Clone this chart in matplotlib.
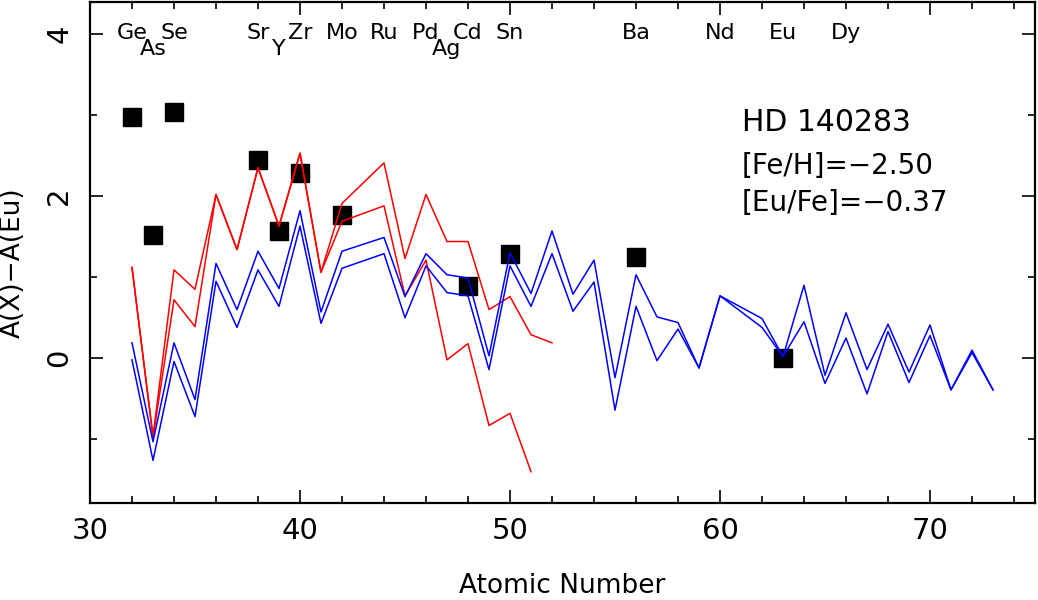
import matplotlib
matplotlib.use("Agg")
import matplotlib.pyplot as plt
from matplotlib.ticker import MultipleLocator

# observed abundances (squares)
obs_z = [32, 33, 34, 38, 39, 40, 42, 48, 50, 56, 63]
obs_v = [2.98, 1.52, 3.04, 2.45, 1.57, 2.29, 1.77, 0.89, 1.29, 1.25, 0.00]

# model curves, red (two) and blue (two)
z_red_hi = [32, 33, 34, 35, 36, 37, 38, 39, 40, 41, 42, 44, 45, 46, 47, 48, 49, 50, 51, 52]
red_hi = [1.12, -0.96, 1.09, 0.85, 2.02, 1.34, 2.35, 1.63, 2.53, 1.06, 1.91,
          2.41, 1.23, 2.02, 1.44, 1.44, 0.60, 0.76, 0.29, 0.19]
z_red_lo = [32, 33, 34, 35, 36, 37, 38, 39, 40, 41, 42, 44, 45, 46, 47, 48, 49, 50, 51]
red_lo = [1.12, -0.98, 0.72, 0.39, 2.02, 1.34, 2.35, 1.63, 2.53, 1.06, 1.69,
          1.88, 0.77, 1.21, -0.02, 0.18, -0.83, -0.68, -1.40]

z_blue = [32, 33, 34, 35, 36, 37, 38, 39, 40, 41, 42,
          44, 45, 46, 47, 48, 49, 50, 51, 52, 53, 54, 55, 56, 57, 58, 59, 60,
          62, 63, 64, 65, 66, 67, 68, 69, 70, 71, 72, 73]
blue_hi = [0.19, -1.03, 0.19, -0.51, 1.17, 0.60, 1.32, 0.86, 1.82, 0.57, 1.32,
           1.49, 0.76, 1.29, 1.03, 0.99, 0.03, 1.30, 0.80, 1.57, 0.79, 1.21, -0.24, 1.03, 0.51, 0.44, -0.12, 0.77,
           0.49, 0.02, 0.90, -0.21, 0.56, -0.14, 0.42, -0.17, 0.41, -0.39, 0.10, -0.39]
blue_lo = [-0.02, -1.26, -0.04, -0.72, 0.95, 0.38, 1.09, 0.64, 1.63, 0.43, 1.11,
           1.29, 0.50, 1.14, 0.81, 0.77, -0.14, 1.14, 0.64, 1.29, 0.58, 0.94, -0.64, 0.64, -0.03, 0.36, -0.12, 0.77,
           0.38, 0.02, 0.45, -0.31, 0.25, -0.44, 0.33, -0.30, 0.28, -0.39, 0.07, -0.39]

# element labels along the top (row 1 = lower line)
elem_names = ['Ge', 'As', 'Se', 'Sr', 'Y', 'Zr', 'Mo', 'Ru', 'Pd', 'Ag', 'Cd', 'Sn', 'Ba', 'Nd', 'Eu', 'Dy']
elem_z = [32, 33, 34, 38, 39, 40, 42, 44, 46, 47, 48, 50, 56, 60, 63, 66]
elem_row = [0, 1, 0, 0, 1, 0, 0, 0, 0, 1, 0, 0, 0, 0, 0, 0]

star_lines = ["HD 140283", "[Fe/H]=\u22122.50", "[Eu/Fe]=\u22120.37"]

plt.rcParams['font.family'] = ['DejaVu Sans']

fig = plt.figure(figsize=(10.38, 6.0), dpi=100)
ax = fig.add_axes([90 / 1038, 97 / 600, 945 / 1038, 501 / 600])

ax.plot(obs_z, obs_v, 's', color='black', markersize=12.5, zorder=2)
ax.plot(z_red_hi, red_hi, color='red', lw=1.1, zorder=3)
ax.plot(z_red_lo, red_lo, color='red', lw=1.1, zorder=3)
ax.plot(z_blue, blue_hi, color='blue', lw=1.1, zorder=3)
ax.plot(z_blue, blue_lo, color='blue', lw=1.1, zorder=3)

ax.set_xlim(30, 75)
ax.set_ylim(-1.786, 4.395)

for name, z, row in zip(elem_names, elem_z, elem_row):
    ax.text(z, 3.94 - 0.205 * row, name, ha='center', va='baseline', fontsize=16)

ax.text(0.69, 0.743, star_lines[0], transform=ax.transAxes, fontsize=21.5, va='baseline')
ax.text(0.69, 0.657, star_lines[1], transform=ax.transAxes, fontsize=20, va='baseline')
ax.text(0.69, 0.582, star_lines[2], transform=ax.transAxes, fontsize=20, va='baseline')

ax.xaxis.set_major_locator(MultipleLocator(10))
ax.xaxis.set_minor_locator(MultipleLocator(2))
ax.yaxis.set_major_locator(MultipleLocator(2))
ax.yaxis.set_minor_locator(MultipleLocator(1))
ax.tick_params(which='both', direction='in', top=True, right=True, width=1.2)
ax.tick_params(which='major', length=9.5, labelsize=21)
ax.tick_params(which='minor', length=5)
ax.tick_params(axis='x', pad=10)
ax.tick_params(axis='y', pad=12)
for lab in ax.get_yticklabels():
    lab.set_rotation(90)
    lab.set_va('center')
for sp in ax.spines.values():
    sp.set_linewidth(1.6)

ax.set_xlabel("Atomic Number", fontsize=19, labelpad=20)
ax.set_ylabel("A(X)\u2212A(Eu)", fontsize=19)
ax.yaxis.set_label_coords(-0.068, 0.479)

fig.savefig("out.png", dpi=100)
